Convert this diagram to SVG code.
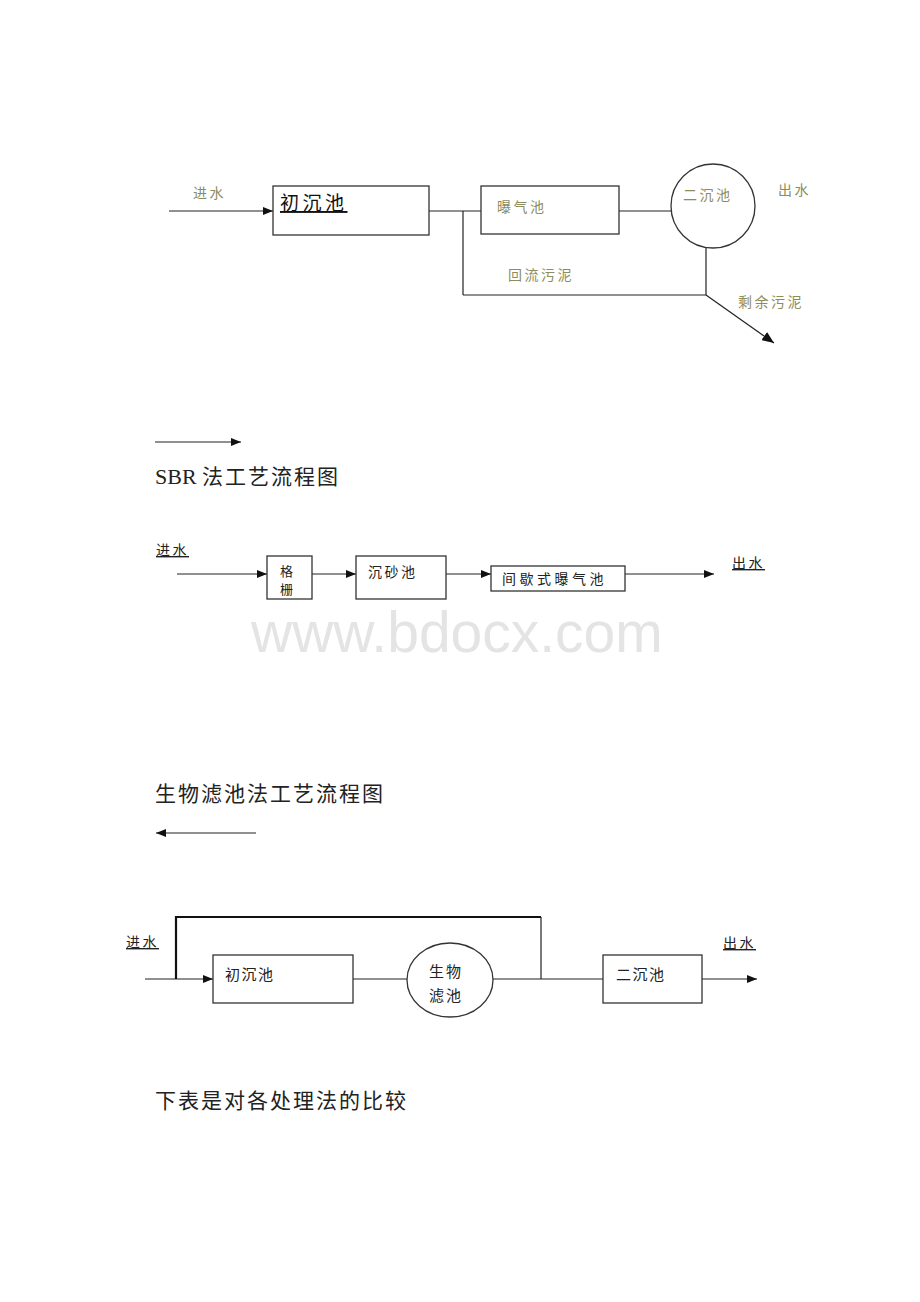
<svg xmlns="http://www.w3.org/2000/svg" width="920" height="1302" viewBox="0 0 920 1302">
<style>
.ln{stroke:#222;stroke-width:1.2;fill:none}
.thk{stroke:#111;stroke-width:2.2;fill:none}
.box{stroke:#333;stroke-width:1.3;fill:#fff}
.cj{font-family:"Noto Sans CJK SC","Noto Sans",sans-serif}
.ol{fill:#8c8c5c;font-size:14px;letter-spacing:2.5px}
.bk{fill:#222;font-size:14px;letter-spacing:2.5px}
.ttl{fill:#222;font-size:21px;letter-spacing:2px}
.wm{font-family:"Liberation Sans",Arial,sans-serif;font-size:57px;fill:#e4e4e4}
</style>
<defs>
<marker id="ah" markerUnits="userSpaceOnUse" markerWidth="10" markerHeight="8" refX="10" refY="4" orient="auto">
<path d="M0,0 L10,4 L0,8 z" fill="#111"/>
</marker>
<marker id="ahb" markerUnits="userSpaceOnUse" markerWidth="12" markerHeight="10" refX="12" refY="5" orient="auto">
<path d="M0,0 L12,5 L0,10 z" fill="#111"/>
</marker>
</defs>

<!-- watermark -->
<text class="wm" x="251" y="652">www.bdocx.com</text>

<!-- Diagram 1 -->
<g id="connectors1">
<line class="ln" x1="169" y1="211" x2="273" y2="211" marker-end="url(#ah)"/>
<line class="ln" x1="429" y1="211" x2="481" y2="211"/>
<line class="ln" x1="463" y1="211" x2="463" y2="295"/>
<line class="ln" x1="619" y1="211" x2="671" y2="211"/>
<line class="ln" x1="706" y1="247" x2="706" y2="295"/>
<line class="ln" x1="463" y1="295" x2="706" y2="295"/>
<line class="ln" x1="706" y1="295" x2="774" y2="343" marker-end="url(#ahb)"/>
</g>
<g id="lbl-in1"><text class="cj ol" x="193" y="198">进水</text></g>
<g id="node-chuchen1">
<rect class="box" x="273" y="186" width="156" height="49"/>
<text class="cj" x="280" y="210" font-size="19" letter-spacing="3.5" fill="#111" text-decoration="underline">初沉池</text>
</g>
<g id="node-puqi">
<rect class="box" x="481" y="186" width="138" height="48"/>
<text class="cj ol" x="497" y="212">曝气池</text>
</g>
<g id="node-erchen1">
<circle class="box" cx="713" cy="206" r="42"/>
<text class="cj ol" x="683" y="200">二沉池</text>
</g>
<g id="lbl-out1"><text class="cj ol" x="778" y="195">出水</text></g>
<g id="lbl-huiliu"><text class="cj ol" x="508" y="280">回流污泥</text></g>
<g id="lbl-shengyu"><text class="cj ol" x="738" y="307">剩余污泥</text></g>

<!-- standalone arrow -->
<g id="arrow-right"><line class="ln" x1="155" y1="442" x2="241" y2="442" marker-end="url(#ah)"/></g>

<g id="title-sbr"><text x="155" y="484" fill="#222"><tspan font-family="Liberation Serif,serif" font-size="22">SBR </tspan><tspan class="cj ttl">法工艺流程图</tspan></text></g>

<!-- Diagram 2 -->
<g id="connectors2">
<line class="ln" x1="177" y1="574" x2="267" y2="574" marker-end="url(#ah)"/>
<line class="ln" x1="312" y1="574" x2="356" y2="574" marker-end="url(#ah)"/>
<line class="ln" x1="446" y1="574" x2="491" y2="574" marker-end="url(#ah)"/>
<line class="ln" x1="625" y1="574" x2="714" y2="574" marker-end="url(#ah)"/>
</g>
<g id="lbl-in2"><text class="cj bk" x="156" y="555" text-decoration="underline">进水</text></g>
<g id="node-gezha">
<rect class="box" x="267" y="556" width="45" height="43"/>
<text class="cj" x="280" y="576" font-size="13" fill="#222">格</text>
<text class="cj" x="280" y="594" font-size="13" fill="#222">栅</text>
</g>
<g id="node-chensha">
<rect class="box" x="356" y="556" width="90" height="43"/>
<text class="cj bk" x="368" y="577">沉砂池</text>
</g>
<g id="node-jianxie">
<rect class="box" x="491" y="566" width="134" height="25"/>
<text class="cj" x="502" y="584" font-size="14" letter-spacing="3.5" fill="#222">间歇式曝气池</text>
</g>
<g id="lbl-out2"><text class="cj bk" x="732" y="568" text-decoration="underline">出水</text></g>

<g id="title-bio"><text class="cj ttl" x="155" y="801" letter-spacing="2.3">生物滤池法工艺流程图</text></g>

<g id="arrow-left"><line class="ln" x1="256" y1="833" x2="156" y2="833" marker-end="url(#ah)"/></g>

<!-- Diagram 3 -->
<g id="connectors3">
<line class="ln" x1="145" y1="979" x2="213" y2="979" marker-end="url(#ah)"/>
<polyline class="thk" points="176,979 176,917 541,917"/>
<line class="ln" x1="541" y1="917" x2="541" y2="979"/>
<line class="ln" x1="353" y1="979" x2="407" y2="979"/>
<line class="ln" x1="493" y1="979" x2="603" y2="979"/>
<line class="ln" x1="702" y1="979" x2="757" y2="979" marker-end="url(#ah)"/>
</g>
<g id="lbl-in3"><text class="cj bk" x="126" y="947" font-size="15" text-decoration="underline">进水</text></g>
<g id="node-chuchen3">
<rect class="box" x="213" y="955" width="140" height="48"/>
<text class="cj" x="225" y="980" font-size="15" letter-spacing="1.5" fill="#222">初沉池</text>
</g>
<g id="node-bio">
<ellipse class="box" cx="450" cy="980" rx="43" ry="37"/>
<text class="cj" x="429" y="977" font-size="15" letter-spacing="2" fill="#222">生物</text>
<text class="cj" x="429" y="1001" font-size="15" letter-spacing="2" fill="#222">滤池</text>
</g>
<g id="node-erchen3">
<rect class="box" x="603" y="955" width="99" height="48"/>
<text class="cj" x="616" y="980" font-size="15" letter-spacing="1.5" fill="#222">二沉池</text>
</g>
<g id="lbl-out3"><text class="cj bk" x="723" y="948" font-size="15" text-decoration="underline">出水</text></g>

<g id="title-compare"><text class="cj ttl" x="155" y="1108" letter-spacing="2.2">下表是对各处理法的比较</text></g>
</svg>
